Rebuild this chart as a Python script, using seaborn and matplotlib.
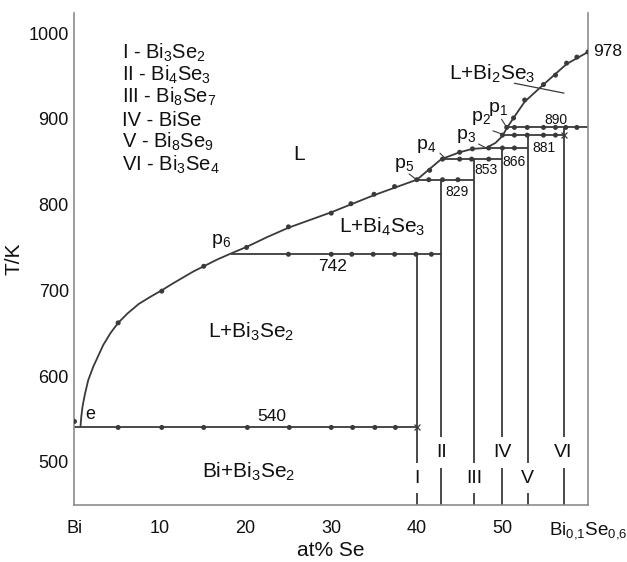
import matplotlib
matplotlib.use("Agg")
import matplotlib.pyplot as plt
import seaborn as sns
import numpy as np
import pandas as pd

# ---------------- data ----------------
# liquidus (fitted curve)
liq_curve_x = [0.7, 0.8, 0.95, 1.2, 1.6, 2.2, 2.8, 3.35, 4.2, 5.1, 6.2, 7.5, 8.8, 10.2,
               11.5, 12.7, 13.9, 15.1, 16.7, 18.3, 20.2, 22.5,
               25.0, 30.0, 35.0, 40.0, 42.86, 45.0, 46.5, 48.1, 49.2, 50.0, 50.5,
               51.3, 52.6, 54.8, 57.5, 60.0]
liq_curve_T = [541, 553, 565, 578, 595, 611, 624, 636, 650, 662, 673, 684, 692, 700,
               708, 715, 722, 728, 736, 743, 751, 762,
               773, 791, 811, 829, 853, 861, 865, 866, 872, 880, 889,
               901, 920, 940, 964, 978]
# experimental points on liquidus
liq_dots_x = [0.0, 5.1, 10.2, 15.1, 20.1, 25.0, 30.0, 32.3, 35.0, 37.4, 41.5, 45.0,
              46.5, 51.3, 52.6, 54.8, 56.2, 57.5, 58.7, 60.0]
liq_dots_T = [547, 662, 699, 728, 750, 774, 790, 801, 812, 821, 840, 861,
              865, 901, 922, 940, 951, 965, 972, 978]

# invariant horizontals
inv_T = [540, 742, 829, 853, 866, 881, 890]
inv_start = [0.0, 18.3, 40.0, 42.86, 48.1, 50.0, 50.5]
inv_end = [40.0, 42.86, 46.67, 50.0, 52.94, 57.14, 60.0]
inv_label_x = [23.0, 30.1, 44.7, 48.1, 51.3, 54.9, 56.2]
inv_label_T = [553, 728, 815, 840, 850, 866, 899]
inv_label_size = [12.5, 12.5, 10, 10, 10, 10, 10]

dots_540 = [5.1, 10.2, 15.1, 20.2, 25.1, 30.0, 32.5, 35.1, 37.5]
dots_742 = [25.0, 30.0, 32.4, 34.9, 37.4, 39.9, 41.7]
dots_829 = [40.0, 41.4, 43.0, 44.8]
dots_853 = [43.0, 45.0, 46.4, 48.4]
dots_866 = [48.4, 50.0, 51.4]
dots_881 = [50.0, 51.4, 52.9, 54.8, 56.2]
dots_890 = [50.5, 51.4, 52.9, 54.8, 56.2, 57.4, 58.7]
cross_x = [40.0, 57.14]
cross_T = [540, 881]

# compounds
comp_names = ["I", "II", "III", "IV", "V", "VI"]
comp_x = [40.0, 42.86, 46.67, 50.0, 52.94, 57.14]
comp_top = [742, 829, 853, 866, 881, 890]
comp_label_T = [481, 511, 481, 511, 481, 511]
comp_formula = ["Bi$_3$Se$_2$", "Bi$_4$Se$_3$", "Bi$_8$Se$_7$", "BiSe",
                "Bi$_8$Se$_9$", "Bi$_3$Se$_4$"]

# peritectic labels
p_names = ["p$_1$", "p$_2$", "p$_3$", "p$_4$", "p$_5$", "p$_6$"]
p_label_x = [49.5, 47.5, 45.8, 41.1, 38.5, 17.1]
p_label_T = [912, 901, 880, 868, 846, 757]
lead_x0 = [49.9, 48.9, 47.2, 42.7, 39.1]
lead_x1 = [50.4, 49.9, 48.1, 43.2, 39.9]
lead_T0 = [899.5, 886, 870.7, 860, 835.7]
lead_T1 = [891.7, 882.4, 866, 855, 829.5]

# region labels
reg_text = ["L", "L+Bi$_4$Se$_3$", "L+Bi$_2$Se$_3$", "L+Bi$_3$Se$_2$", "Bi+Bi$_3$Se$_2$"]
reg_x = [26.2, 36.0, 48.8, 20.7, 20.4]
reg_T = [858, 774, 953, 651, 488]

xticks = [0, 10, 20, 30, 40, 50, 60]
xticklabels = ["Bi", "10", "20", "30", "40", "50", "Bi$_{0{,}1}$Se$_{0{,}6}$"]
yticks = [500, 600, 700, 800, 900, 1000]

# ---------------- style ----------------
sns.set_theme(style="white")
plt.rcParams["font.family"] = ["Liberation Sans", "DejaVu Sans"]
plt.rcParams["mathtext.fontset"] = "custom"
plt.rcParams["mathtext.rm"] = "Liberation Sans"
plt.rcParams["mathtext.it"] = "Liberation Sans:italic"
plt.rcParams["mathtext.default"] = "rm"

LC = "#3a3a3a"
SC = "#8c8c8c"

fig = plt.figure(figsize=(6.27, 5.62), dpi=100)
ax = fig.add_axes([0.1188, 0.1014, 0.819, 0.8755])

# liquidus curve
sns.lineplot(x=liq_curve_x, y=liq_curve_T, sort=False, estimator=None,
             color=LC, lw=1.3, ax=ax)

# invariants
ax.hlines(inv_T, inv_start, inv_end, color=LC, lw=1.3)
# compound verticals
ax.vlines(comp_x, 449.5, comp_top, color=LC, lw=1.3)

# dots
dot_x = liq_dots_x + dots_540 + dots_742 + dots_829 + dots_853 + dots_866 + dots_881 + dots_890
dot_T = (liq_dots_T + [540] * len(dots_540) + [742] * len(dots_742) + [829] * len(dots_829)
         + [853] * len(dots_853) + [866] * len(dots_866) + [881] * len(dots_881)
         + [890] * len(dots_890))
sns.scatterplot(x=dot_x, y=dot_T, color=LC, s=13, edgecolor="none", zorder=5, ax=ax)
ax.scatter(cross_x, cross_T, marker="x", s=18, color=LC, linewidths=0.9, zorder=5)

# slanted marker line near L+Bi2Se3
ax.plot([51.4, 57.2], [941.5, 930], color=LC, lw=0.9)

# labels
for t, x, T, fs in zip(inv_T, inv_label_x, inv_label_T, inv_label_size):
    ax.text(x, T, str(t), fontsize=fs, ha="center", va="center", color="#111")
ax.text(60.6, 978, "978", fontsize=12.5, ha="left", va="center", color="#111")

for n, x, T in zip(comp_names, comp_x, comp_label_T):
    ax.text(x, T, n, fontsize=14, ha="center", va="center", color="#111", zorder=6,
            bbox=dict(facecolor="white", edgecolor="none", boxstyle="square,pad=0.35"))

for n, x, T in zip(p_names, p_label_x, p_label_T):
    ax.text(x, T, n, fontsize=14, ha="center", va="center", color="#111")
for x0, x1, T0, T1 in zip(lead_x0, lead_x1, lead_T0, lead_T1):
    ax.plot([x0, x1], [T0, T1], color=LC, lw=0.8)

ax.text(1.8, 555, "e", fontsize=13, ha="center", va="center", color="#111")

for s, x, T in zip(reg_text, reg_x, reg_T):
    ax.text(x, T, s, fontsize=15, ha="center", va="center", color="#111")

leg_T = [970, 944.6, 919, 891.7, 866.4, 839.2]
for n, f, T in zip(comp_names, comp_formula, leg_T):
    ax.text(5.5, T, f"{n} - {f}", fontsize=14.5, ha="left", va="baseline", color="#111")

# axes
ax.set_xlim(0, 60)
ax.set_ylim(449.5, 1023.5)
ax.set_xticks(xticks)
ax.set_xticklabels(xticklabels)
ax.set_yticks(yticks)
ax.tick_params(axis="both", direction="in", length=11, width=1, color=SC,
               labelsize=13, labelcolor="#111")
ax.tick_params(axis="x", pad=11)
ax.tick_params(axis="y", pad=4)
ax.get_xticklabels()[-1].set_fontsize(13.5)
for side in ["left", "right", "bottom"]:
    ax.spines[side].set_color(SC)
    ax.spines[side].set_linewidth(1.2)
ax.spines["top"].set_visible(False)
ax.set_xlabel("at% Se", fontsize=15, labelpad=0, color="#111")
ax.set_ylabel("T/K", fontsize=15, labelpad=4, color="#111")

fig.savefig("out.png", dpi=100)
